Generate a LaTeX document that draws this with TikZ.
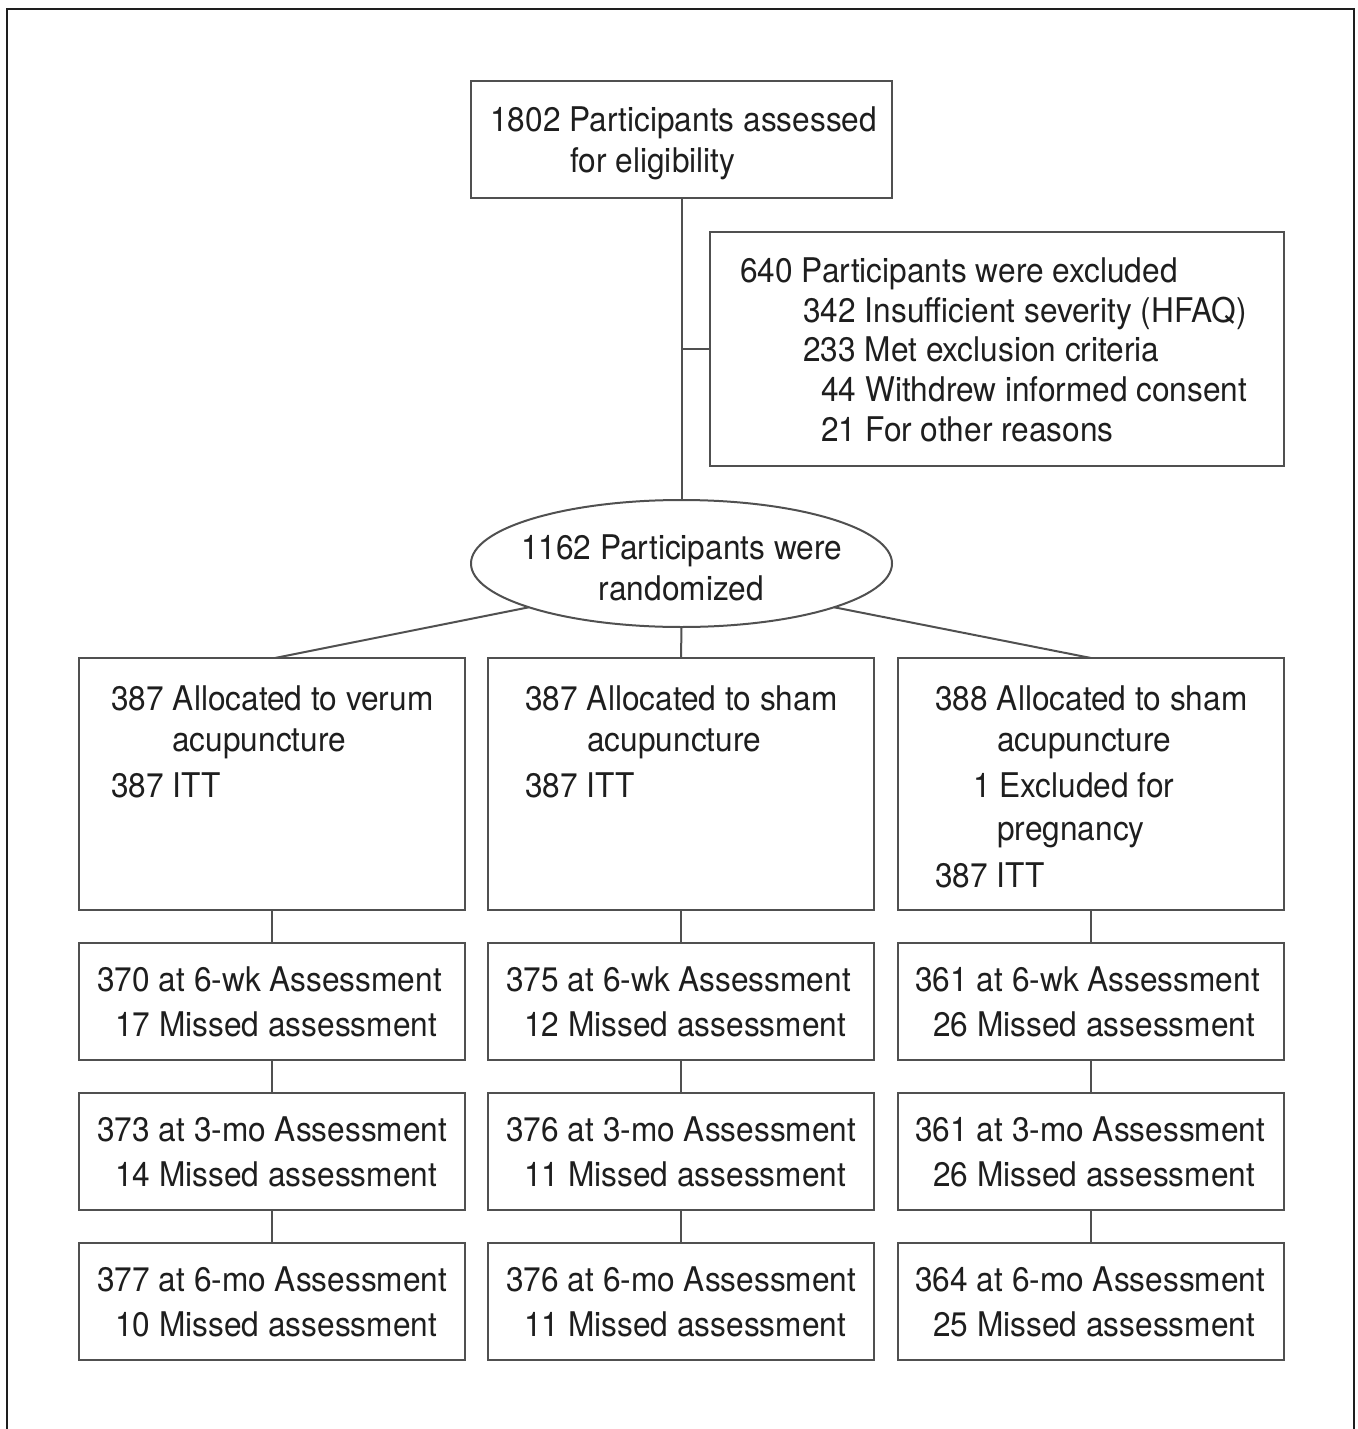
\documentclass[tikz,border=0pt]{standalone}
\usepackage{fontspec}
\setmainfont{TeX Gyre Heros}[FakeStretch=0.93]
\usetikzlibrary{shapes.geometric}
\definecolor{ln}{HTML}{505050}
\definecolor{fr}{HTML}{1E1E1E}
\definecolor{tx}{HTML}{1E1E1E}
\begin{document}
\begin{tikzpicture}[x=0.5pt,y=-0.5pt,
  bx/.style={draw=ln, line width=1pt, rectangle, inner sep=0pt, outer sep=0pt},
  el/.style={draw=ln, line width=1pt, ellipse, inner sep=0pt, outer sep=0pt, minimum width=210.5pt, minimum height=63.5pt},
  conn/.style={draw=ln, line width=1pt},
  frame/.style={draw=fr, line width=1.3pt},
  txt/.style={anchor=base west, inner sep=0pt, text=tx, font=\fontsize{17}{20}\selectfont},
  ctxt/.style={anchor=base, inner sep=0pt, text=tx, font=\fontsize{17}{20}\selectfont}]
\useasboundingbox (0,0) rectangle (1357,1429);
\draw[frame] (7,1440) -- (7,9) -- (1354,9) -- (1354,1440);

% shapes
\node[bx, minimum width=210.5pt, minimum height=58.5pt] (top) at (681.5,139.5) {};
\node[bx, minimum width=287pt, minimum height=117pt] (excl) at (997,349) {};
\node[el] (ell) at (681.5,563.5) {};

\node[bx, minimum width=193pt, minimum height=126pt] (a1) at (272,784) {};
\node[bx, minimum width=193pt, minimum height=126pt] (a2) at (681,784) {};
\node[bx, minimum width=193pt, minimum height=126pt] (a3) at (1091,784) {};

\node[bx, minimum width=193pt, minimum height=58.5pt] (b1) at (272,1001.5) {};
\node[bx, minimum width=193pt, minimum height=58.5pt] (b2) at (681,1001.5) {};
\node[bx, minimum width=193pt, minimum height=58.5pt] (b3) at (1091,1001.5) {};

\node[bx, minimum width=193pt, minimum height=58.5pt] (c1) at (272,1151.5) {};
\node[bx, minimum width=193pt, minimum height=58.5pt] (c2) at (681,1151.5) {};
\node[bx, minimum width=193pt, minimum height=58.5pt] (c3) at (1091,1151.5) {};

\node[bx, minimum width=193pt, minimum height=58.5pt] (d1) at (272,1301.5) {};
\node[bx, minimum width=193pt, minimum height=58.5pt] (d2) at (681,1301.5) {};
\node[bx, minimum width=193pt, minimum height=58.5pt] (d3) at (1091,1301.5) {};

% connectors
\draw[conn] (top.south) -- (ell.north);
\draw[conn] (top.south |- excl.west) -- (excl.west);
\draw[conn] (ell.196) -- ([xshift=1.5pt]a1.north);
\draw[conn] (ell.south) -- (a2.north);
\draw[conn] (ell.-16) -- (a3.north);
\foreach \i in {1,2,3}{
  \draw[conn] (a\i.south) -- (b\i.north);
  \draw[conn] (b\i.south) -- (c\i.north);
  \draw[conn] (c\i.south) -- (d\i.north);
}

% texts
\node[txt] (ttop1) at (490,132) {1802 Participants assessed};
\node[txt] (ttop2) at (570,172) {for eligibility};

\node[txt] (tex1) at (740,282) {640 Participants were excluded};
\node[txt] (tex2) at (803,322) {342 Insufficient severity (HFAQ)};
\node[txt] (tex3) at (803,361) {233 Met exclusion criteria};
\node[txt] (tex4) at (821,401) {44 Withdrew informed consent};
\node[txt] (tex5) at (821,441) {21 For other reasons};

\node[ctxt] (tel1) at (681.5,559) {1162 Participants were};
\node[ctxt] (tel2) at (681.5,600) {randomized};

\node[txt] (ta11) at (111,710) {387 Allocated to verum};
\node[txt] (ta12) at (172,751) {acupuncture};
\node[txt] (ta13) at (111,797) {387 ITT};

\node[txt] (ta21) at (525,710) {387 Allocated to sham};
\node[txt] (ta22) at (587,751) {acupuncture};
\node[txt] (ta23) at (525,797) {387 ITT};

\node[txt] (ta31) at (935,710) {388 Allocated to sham};
\node[txt] (ta32) at (997,751) {acupuncture};
\node[txt] (ta33) at (973,797) {1 Excluded for};
\node[txt] (ta34) at (997,840) {pregnancy};
\node[txt] (ta35) at (935,887) {387 ITT};

\node[txt] (tb11) at (97,991) {370 at 6-wk Assessment};
\node[txt] (tb12) at (115,1036) {17 Missed assessment};
\node[txt] (tb21) at (506,991) {375 at 6-wk Assessment};
\node[txt] (tb22) at (524,1036) {12 Missed assessment};
\node[txt] (tb31) at (915,991) {361 at 6-wk Assessment};
\node[txt] (tb32) at (933,1036) {26 Missed assessment};

\node[txt] (tc11) at (97,1141) {373 at 3-mo Assessment};
\node[txt] (tc12) at (115,1186) {14 Missed assessment};
\node[txt] (tc21) at (506,1141) {376 at 3-mo Assessment};
\node[txt] (tc22) at (524,1186) {11 Missed assessment};
\node[txt] (tc31) at (915,1141) {361 at 3-mo Assessment};
\node[txt] (tc32) at (933,1186) {26 Missed assessment};

\node[txt] (td11) at (97,1291) {377 at 6-mo Assessment};
\node[txt] (td12) at (115,1336) {10 Missed assessment};
\node[txt] (td21) at (506,1291) {376 at 6-mo Assessment};
\node[txt] (td22) at (524,1336) {11 Missed assessment};
\node[txt] (td31) at (915,1291) {364 at 6-mo Assessment};
\node[txt] (td32) at (933,1336) {25 Missed assessment};
\end{tikzpicture}
\end{document}
